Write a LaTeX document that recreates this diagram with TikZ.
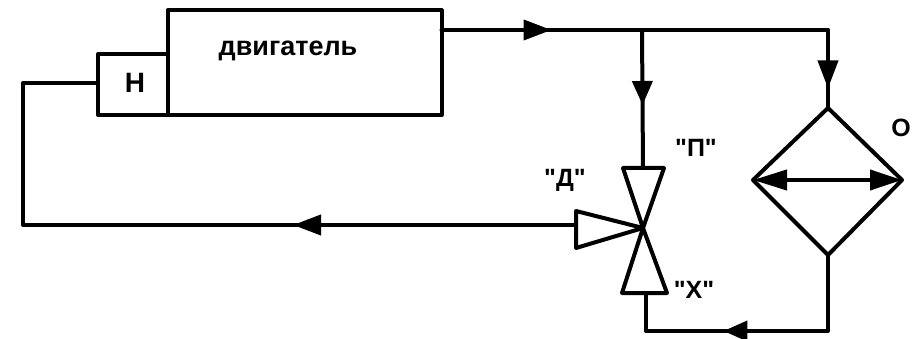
\documentclass[tikz,border=0pt]{standalone}
\usepackage{fontspec}
\newfontfamily\labfont{Liberation Sans}
\usetikzlibrary{arrows.meta,decorations.markings}
\tikzset{
  pipe/.style={line width=4pt,line join=round,line cap=round,draw=black},
  box/.style={pipe,rectangle,outer sep=0pt,inner sep=0pt,fill=white},
  lab/.style={font=\labfont\bfseries\fontsize{25}{28}\selectfont,inner sep=0pt},
  headat/.style={postaction={decorate,decoration={markings,mark=at position #1 with {\arrow{Triangle[length=28pt,width=20pt]}}}}},
  headrev/.style={postaction={decorate,decoration={markings,mark=at position #1 with {\arrow{Triangle[length=24pt,width=20pt]}}}}},
}
\begin{document}
\begin{tikzpicture}[x=1pt,y=-1pt]
\useasboundingbox[fill=white] (0,0) rectangle (913,339);
% boxes
\node[box,minimum width=70pt,minimum height=61pt] (pump) at (133,84.5) {};
\node[box,minimum width=274pt,minimum height=105pt] (engine) at (304.5,63) {};
\node[lab,font=\labfont\bfseries\fontsize{27}{30}\selectfont] (engtext) at (288,51) {двигатель};
\node[lab,font=\labfont\bfseries\fontsize{28}{30}\selectfont] (pumptext) at (135,83) {Н};
% points
\coordinate (c) at (643,228);
\coordinate (ptl) at (623,168); \coordinate (ptr) at (664,168); \coordinate (pin) at (643,168);
\coordinate (xbl) at (622,293); \coordinate (xbr) at (667,293); \coordinate (xin) at (646,293);
\coordinate (dt) at (576,211); \coordinate (db) at (576,248); \coordinate (din) at (576,225);
\coordinate (top) at (828,108); \coordinate (left) at (753,180); \coordinate (right) at (902,180); \coordinate (bot) at (828,255);
\coordinate (hout) at (441.5,30); \coordinate (tee) at (642,30); \coordinate (corner) at (828,30);
\coordinate (lowr) at (828,331); \coordinate (lowl) at (646,331);
\coordinate (pl) at (98,83); \coordinate (ul) at (23,83); \coordinate (ll) at (23,225);
% valve
\draw[pipe] (ptl) -- (ptr) -- (c) -- cycle;
\draw[pipe] (xbl) -- (xbr) -- (c) -- cycle;
\draw[pipe] (dt) -- (c) -- (db) -- cycle;
% cooler
\draw[pipe] (top) -- (right) -- (bot) -- (left) -- cycle;
\draw[pipe,{Triangle[length=34pt,width=20pt]}-{Triangle[length=32pt,width=20pt]}] (left) -- (right);
% pipes
\draw[pipe,headat=110pt] (hout) -- (corner) -- (top);
\draw[pipe,headrev=75pt] (tee) -- (pin);
\draw[pipe,headat=0.99] (corner) -- ++(0,59);
\draw[pipe,headrev=0.61] (bot) -- (lowr) -- (lowl) -- (xin);
\draw[pipe,headat=0.3675] (din) -- (ll) -- (ul) -- (pl);
% labels
\node[lab] (lp) at (696,148) {"П"};
\node[lab] (ld) at (565,180) {"Д"};
\node[lab] (lx) at (694,290) {"Х"};
\node[lab] (lo) at (901,128) {О};
\end{tikzpicture}
\end{document}
